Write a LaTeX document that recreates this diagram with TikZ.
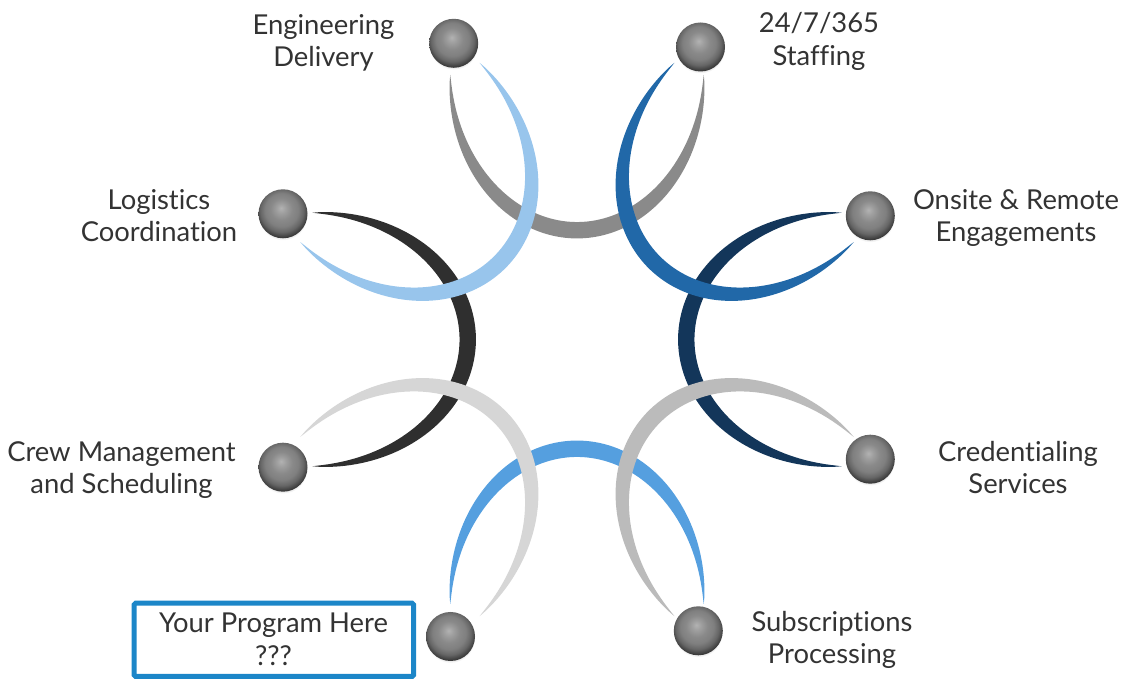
\documentclass[tikz,border=0pt]{standalone}
\usepackage{fontspec}
\setmainfont[Ligatures=NoCommon]{Lato}
\usetikzlibrary{shadows}
\pgfdeclareradialshading{greyball}{\pgfpoint{-2bp}{6bp}}{color(0bp)=(black!30); color(5bp)=(black!38); color(11bp)=(black!46); color(17bp)=(black!50); color(22bp)=(black!60); color(27bp)=(black!78); color(50bp)=(black!78)}
\definecolor{arcgray}{HTML}{8A8A8A}
\definecolor{arcblue}{HTML}{2168A8}
\definecolor{arcnavy}{HTML}{13365A}
\definecolor{arclgray}{HTML}{BBBBBB}
\definecolor{arcmblue}{HTML}{559FDF}
\definecolor{arcxlgray}{HTML}{D6D6D6}
\definecolor{arcblack}{HTML}{2F2F2F}
\definecolor{arclblue}{HTML}{98C5EC}
\definecolor{txt}{HTML}{333333}
\definecolor{boxblue}{HTML}{1C86C8}
\newcommand\crescentarc[2]{%
  \fill[#2, shift={(577,339.5)}, rotate=#1]
    plot[domain=180:360, samples=90] ({ox(\x)},{oy(\x)})
    -- plot[domain=360:180, samples=90] ({ix(\x)},{iy(\x)})
    -- cycle;}
\begin{document}
\begin{tikzpicture}[x=1pt,y=1pt,
  declare function={
    cw(\t)=8.2*pow(abs(sin(\t))+0.00001,0.8);
    nn(\t)=sqrt((1.5525*cos(\t))^2+(1.2675*sin(\t))^2);
    ox(\t)=126.75*cos(\t)+cw(\t)*1.5525*cos(\t)/nn(\t);
    oy(\t)=264.5+155.25*sin(\t)+cw(\t)*1.2675*sin(\t)/nn(\t);
    ix(\t)=126.75*cos(\t)-cw(\t)*1.5525*cos(\t)/nn(\t);
    iy(\t)=264.5+155.25*sin(\t)-cw(\t)*1.2675*sin(\t)/nn(\t);
  },
  ballnode/.style={circle, minimum size=49pt, inner sep=0pt, shading=greyball,
    circular drop shadow={shadow xshift=0pt, shadow yshift=-2pt, opacity=0.25, shadow scale=1.0}},
  lbl/.style={align=center, text=txt, inner sep=0pt, font=\fontsize{27.4}{32.3}\selectfont},
  progbox/.style={draw=boxblue, line width=5pt, rounded corners=1.5pt, minimum width=279.3pt, minimum height=73.3pt, inner sep=0pt}]
\useasboundingbox (0,0) rectangle (1122,679);
% lower layer arcs
\crescentarc{0}{arcgray}
\crescentarc{-90}{arcnavy}
\crescentarc{180}{arcmblue}
\crescentarc{90}{arcblack}
% upper layer arcs
\crescentarc{-45}{arcblue}
\crescentarc{-135}{arclgray}
\crescentarc{135}{arcxlgray}
\crescentarc{45}{arclblue}
% balls
\node[ballnode] (eng) at (453.7,635.7) {};
\node[ballnode] (stf) at (700.5,632) {};
\node[ballnode] (ons) at (870.3,463.2) {};
\node[ballnode] (cre) at (870.3,219.8) {};
\node[ballnode] (sub) at (698.3,48.2) {};
\node[ballnode] (yp) at (450.5,42.5) {};
\node[ballnode] (crw) at (283,211.8) {};
\node[ballnode] (log) at (283,465.2) {};
% labels
\node[lbl] (tEng) at (323.5,635) {\strut Engineering\\\strut Delivery};
\node[lbl] (tStf) at (819,636.5) {\strut 24/7/365\\\strut Staffing};
\node[lbl] (tLog) at (159,460) {\strut Logistics\\\strut Coordination};
\node[lbl] (tOns) at (1016,460) {\strut Onsite \& Remote\\\strut Engagements};
\node[lbl] (tCrw) at (121.5,208) {\strut Crew Management\\\strut and Scheduling};
\node[lbl] (tCre) at (1018,208) {\strut Credentialing\\\strut Services};
\node[lbl] (tSub) at (832,37.7) {\strut Subscriptions\\\strut Processing};
\node[progbox] (box) at (273.85,39.15) {};
\node[lbl] (tYP) at (273.5,36.5) {\strut Your Program Here\\\strut ???};
\end{tikzpicture}
\end{document}
